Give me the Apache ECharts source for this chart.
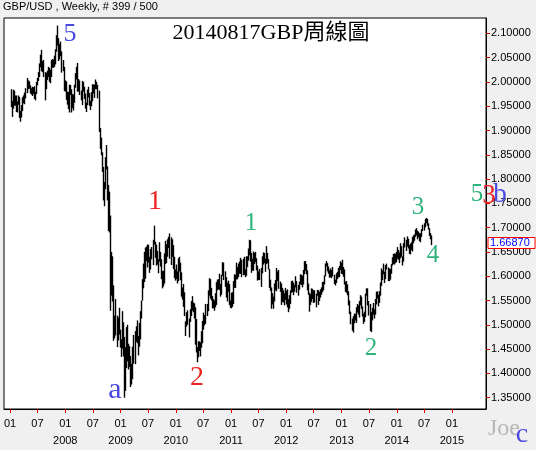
<!DOCTYPE html>
<html><head><meta charset="utf-8">
<script src="https://cdn.jsdelivr.net/npm/echarts@6/dist/echarts.min.js"></script>
<style>html,body{margin:0;padding:0;background:#f0f0f0;}#c{width:536px;height:450px;}</style>
</head><body><div id="c"></div>
<script>
// ---- data ----
const firstWeek = '2007-01-05';   // weekly bars, one per week
const lows = [
// 2007
1.948,1.928,1.945,1.951,1.951,1.938,1.937,1.953,1.926,1.918,1.927,1.940,1.956,1.954,1.966,1.977,1.985,1.986,1.976,1.974,1.971,1.975,1.965,1.962,1.975,1.993,2.002,2.010,2.030,2.022,2.020,2.010,1.962,1.985,2.004,2.010,2.000,1.997,2.010,2.029,2.029,2.031,2.036,2.062,2.075,2.043,2.046,2.053,2.019,2.022,1.981,1.980,
// 2008
1.963,1.953,1.944,1.937,1.973,1.937,1.946,1.941,1.957,1.988,2.005,1.980,1.980,1.973,1.962,1.952,1.980,1.965,1.945,1.938,1.952,1.968,1.951,1.942,1.950,1.960,1.976,1.967,1.985,1.985,1.966,1.897,1.862,1.849,1.815,1.756,1.744,1.779,1.820,1.756,1.693,1.690,1.529,1.560,1.548,1.467,1.472,1.478,1.454,1.468,1.480,1.453,
// 2009
1.434,1.451,1.435,1.350,1.364,1.411,1.425,1.408,1.413,1.372,1.377,1.388,1.420,1.419,1.465,1.462,1.437,1.455,1.470,1.513,1.550,1.575,1.588,1.595,1.631,1.618,1.628,1.607,1.614,1.635,1.623,1.665,1.638,1.622,1.624,1.606,1.630,1.620,1.594,1.575,1.579,1.585,1.625,1.627,1.640,1.658,1.636,1.623,1.640,1.615,1.596,1.591,
// 2010
1.594,1.585,1.590,1.610,1.592,1.558,1.552,1.537,1.518,1.477,1.496,1.500,1.474,1.506,1.518,1.529,1.526,1.513,1.459,1.443,1.423,1.433,1.446,1.435,1.453,1.462,1.490,1.499,1.502,1.518,1.528,1.560,1.554,1.550,1.534,1.534,1.529,1.536,1.541,1.571,1.573,1.572,1.558,1.562,1.601,1.592,1.578,1.556,1.548,1.568,1.541,1.535,1.534,
// 2011
1.537,1.543,1.576,1.576,1.593,1.594,1.598,1.605,1.605,1.598,1.602,1.603,1.598,1.601,1.619,1.632,1.643,1.630,1.607,1.612,1.611,1.625,1.629,1.612,1.591,1.592,1.592,1.578,1.606,1.624,1.627,1.609,1.625,1.627,1.614,1.576,1.570,1.533,1.542,1.533,1.548,1.571,1.569,1.590,1.574,1.568,1.541,1.547,1.546,1.540,1.551,1.542,
// 2012
1.536,1.526,1.533,1.543,1.566,1.567,1.561,1.568,1.577,1.566,1.560,1.572,1.583,1.582,1.577,1.583,1.604,1.611,1.604,1.571,1.562,1.527,1.541,1.547,1.553,1.545,1.546,1.536,1.560,1.541,1.549,1.556,1.562,1.567,1.571,1.583,1.600,1.620,1.610,1.605,1.597,1.598,1.596,1.600,1.584,1.581,1.586,1.594,1.598,1.598,1.613,1.605,
// 2013
1.604,1.599,1.583,1.568,1.566,1.561,1.540,1.522,1.501,1.488,1.484,1.503,1.509,1.504,1.525,1.521,1.515,1.540,1.533,1.517,1.502,1.506,1.516,1.560,1.540,1.519,1.487,1.485,1.509,1.521,1.513,1.521,1.542,1.554,1.538,1.545,1.560,1.580,1.592,1.604,1.586,1.594,1.614,1.590,1.590,1.593,1.605,1.622,1.625,1.624,1.627,1.629,
// 2014
1.636,1.634,1.627,1.637,1.640,1.622,1.630,1.659,1.652,1.661,1.657,1.646,1.645,1.654,1.651,1.668,1.673,1.681,1.684,1.676,1.680,1.672,1.670,1.681,1.693,1.694,1.701,1.709,1.704,1.696,1.683,1.676,1.664
];
const highs = [
// 2007
1.985,1.961,1.984,1.982,1.972,1.972,1.960,1.972,1.969,1.940,1.952,1.968,1.972,1.978,1.987,2.008,2.003,2.001,1.993,1.987,1.990,1.989,1.991,1.980,2.000,2.008,2.020,2.038,2.056,2.066,2.043,2.045,2.020,2.019,2.023,2.031,2.029,2.025,2.045,2.047,2.046,2.054,2.067,2.096,2.116,2.090,2.078,2.083,2.063,2.045,2.031,2.003,
// 2008
2.001,1.980,1.979,1.994,1.994,1.985,1.975,1.974,1.994,2.018,2.031,2.039,2.006,2.003,1.982,2.002,2.000,1.990,1.976,1.957,1.984,1.990,1.977,1.961,1.979,1.995,1.995,1.994,2.005,2.000,1.994,1.982,1.905,1.885,1.855,1.825,1.794,1.845,1.870,1.826,1.788,1.774,1.725,1.650,1.641,1.581,1.519,1.553,1.519,1.515,1.535,1.490,
// 2009
1.470,1.528,1.505,1.475,1.454,1.495,1.500,1.461,1.456,1.436,1.420,1.455,1.479,1.487,1.497,1.509,1.477,1.504,1.528,1.550,1.594,1.626,1.650,1.659,1.661,1.665,1.665,1.640,1.656,1.660,1.675,1.704,1.671,1.665,1.652,1.635,1.670,1.650,1.635,1.611,1.611,1.647,1.673,1.666,1.676,1.681,1.688,1.680,1.676,1.664,1.640,1.614,
// 2010
1.624,1.610,1.637,1.640,1.628,1.608,1.577,1.584,1.567,1.507,1.526,1.530,1.513,1.532,1.549,1.559,1.546,1.544,1.536,1.512,1.454,1.466,1.466,1.464,1.487,1.508,1.525,1.520,1.543,1.543,1.571,1.596,1.594,1.576,1.559,1.553,1.550,1.565,1.588,1.593,1.594,1.605,1.584,1.603,1.629,1.628,1.610,1.598,1.587,1.591,1.584,1.550,1.566,
// 2011
1.567,1.590,1.604,1.603,1.628,1.619,1.626,1.630,1.638,1.634,1.636,1.640,1.614,1.641,1.641,1.657,1.675,1.674,1.648,1.636,1.651,1.648,1.650,1.637,1.622,1.610,1.615,1.617,1.641,1.649,1.648,1.636,1.662,1.648,1.635,1.615,1.593,1.577,1.565,1.558,1.585,1.592,1.617,1.610,1.613,1.589,1.585,1.576,1.571,1.565,1.576,1.570,
// 2012
1.573,1.553,1.561,1.571,1.590,1.591,1.587,1.582,1.600,1.590,1.582,1.589,1.604,1.603,1.601,1.613,1.631,1.631,1.625,1.612,1.585,1.566,1.563,1.575,1.574,1.571,1.571,1.564,1.572,1.571,1.568,1.573,1.577,1.588,1.589,1.602,1.626,1.631,1.627,1.620,1.612,1.616,1.613,1.619,1.603,1.593,1.606,1.609,1.617,1.621,1.631,1.628,
// 2013
1.634,1.619,1.614,1.589,1.590,1.583,1.569,1.550,1.527,1.513,1.518,1.523,1.523,1.536,1.543,1.540,1.549,1.561,1.558,1.538,1.523,1.527,1.564,1.575,1.575,1.549,1.543,1.526,1.535,1.545,1.532,1.553,1.568,1.569,1.562,1.569,1.587,1.616,1.612,1.626,1.609,1.623,1.626,1.618,1.616,1.615,1.625,1.639,1.646,1.647,1.646,1.650,
// 2014
1.660,1.654,1.649,1.668,1.662,1.641,1.668,1.680,1.675,1.682,1.677,1.664,1.667,1.670,1.681,1.684,1.686,1.696,1.699,1.694,1.692,1.689,1.688,1.697,1.706,1.709,1.718,1.720,1.718,1.709,1.699,1.689,1.684
];
const lastClose = 1.66870;
const yTicks = [1.35,1.40,1.45,1.50,1.55,1.60,1.65,1.70,1.75,1.80,1.85,1.90,1.95,2.00,2.05,2.10];
const xTickDates = ['2007-01-01','2007-07-01','2008-01-01','2008-07-01','2009-01-01','2009-07-01','2010-01-01','2010-07-01','2011-01-01','2011-07-01','2012-01-01','2012-07-01','2013-01-01','2013-07-01','2014-01-01','2014-07-01','2015-01-01'];
const xTickLabels = ['01','07','01\n2008','07','01\n2009','07','01\n2010','07','01\n2011','07','01\n2012','07','01\n2013','07','01\n2014','07','01\n2015'];
const headerText = 'GBP/USD , Weekly, # 399 / 500';
const titleText = '20140817GBP周線圖';

// ---- build ----
const DAY = 86400000;
const origin = Date.parse('2007-01-01');
const dayOf = s => (Date.parse(s) - origin) / DAY;
const w0 = dayOf(firstWeek);
const bars = lows.map((lo, i) => [w0 + 7 * i, lo, highs[i]]);
const tickDays = xTickDates.map(dayOf);
const labelOf = {};
tickDays.forEach((d, i) => { labelOf[Math.round(d)] = xTickLabels[i]; });

const serif = "'Liberation Serif','Times New Roman','Noto Sans CJK TC',serif";
const sans = "'Liberation Sans',Arial,sans-serif";
let gid = 0;
function lbl(text, x, y, size, color, align) {
  return { type: 'text', id: 'l' + (gid++), x: x, y: y, z: 100,
    style: { text: text, fontSize: size, fontFamily: serif, fill: color,
      align: align || 'center', verticalAlign: 'middle' } };
}
const BLUE = '#4848e0', RED = '#ec2424', GREEN = '#30b47c';

const chart = echarts.init(document.getElementById('c'));
chart.setOption({
  animation: false,
  backgroundColor: '#f0f0f0',
  textStyle: { fontFamily: sans },
  grid: { left: 4, right: 50, top: 18, bottom: 41, show: true,
    backgroundColor: '#ffffff', borderColor: '#000', borderWidth: 1 },
  xAxis: {
    type: 'value', min: -40, max: 3147,
    axisLine: { show: true, onZero: false, lineStyle: { color: '#000', width: 1 } },
    axisTick: { show: true, customValues: tickDays, length: 4, lineStyle: { color: '#e00000' } },
    axisLabel: { customValues: tickDays, fontSize: 11, color: '#000', margin: 6, lineHeight: 17,
      fontFamily: sans, formatter: v => labelOf[Math.round(v)] || '' },
    splitLine: { show: false }
  },
  yAxis: {
    type: 'value', position: 'right', min: 1.3267, max: 2.1315,
    axisLine: { show: true, onZero: false, lineStyle: { color: '#000', width: 1 } },
    axisTick: { show: true, customValues: yTicks, length: 4, lineStyle: { color: '#e00000' } },
    axisLabel: { customValues: yTicks, fontSize: 11, color: '#000', margin: 5,
      fontFamily: sans, formatter: v => v.toFixed(5) },
    splitLine: { show: false }
  },
  series: [{
    type: 'custom',
    clip: true,
    data: bars,
    encode: { x: 0, y: [1, 2] },
    renderItem: function (params, api) {
      const a = api.coord([api.value(0), api.value(1)]);
      const b = api.coord([api.value(0), api.value(2)]);
      const x = Math.round(a[0]) + 0.5;
      return { type: 'line', shape: { x1: x, y1: a[1], x2: x, y2: b[1] },
        style: { stroke: '#000', lineWidth: 1.4 } };
    }
  }],
  graphic: [
    { type: 'text', id: 'hdr', x: 3, y: 7, style: { text: headerText, fontSize: 11, fontFamily: sans, fill: '#000', verticalAlign: 'middle' } },
    lbl(titleText, 271, 33, 22, '#000'),
    lbl('5', 70, 34, 26, BLUE),
    lbl('a', 115, 390, 30, BLUE),
    lbl('1', 155, 202, 28, RED),
    lbl('2', 197, 378, 28, RED),
    lbl('1', 251, 223, 25, GREEN),
    lbl('2', 371, 348, 25, GREEN),
    lbl('3', 418, 207, 25, GREEN),
    lbl('4', 433, 255, 25, GREEN),
    lbl('5', 477, 194, 25, GREEN),
    lbl('3', 489, 196, 27, RED),
    lbl('b', 500, 195, 27, BLUE),
    { type: 'text', id: 'joe', x: 488, y: 429, z: 100, style: { text: 'Joe', fontSize: 24, fontFamily: serif, fill: '#b8b8b8', verticalAlign: 'middle' } },
    lbl('c', 522, 435, 28, BLUE)
  ]
});

// last price box on the right axis
const py = chart.convertToPixel({ yAxisIndex: 0 }, lastClose);
chart.setOption({ graphic: [
  { type: 'rect', id: 'pbox', shape: { x: 488, y: Math.round(py) - 5.5, width: 47, height: 11 }, z: 101,
    style: { fill: '#fff', stroke: '#ff0000', lineWidth: 1 } },
  { type: 'text', id: 'ptxt', x: 490, y: py, z: 102,
    style: { text: lastClose.toFixed(5), fontSize: 11, fontFamily: sans, fill: '#0000ff', verticalAlign: 'middle' } }
] });
</script>
</body></html>
